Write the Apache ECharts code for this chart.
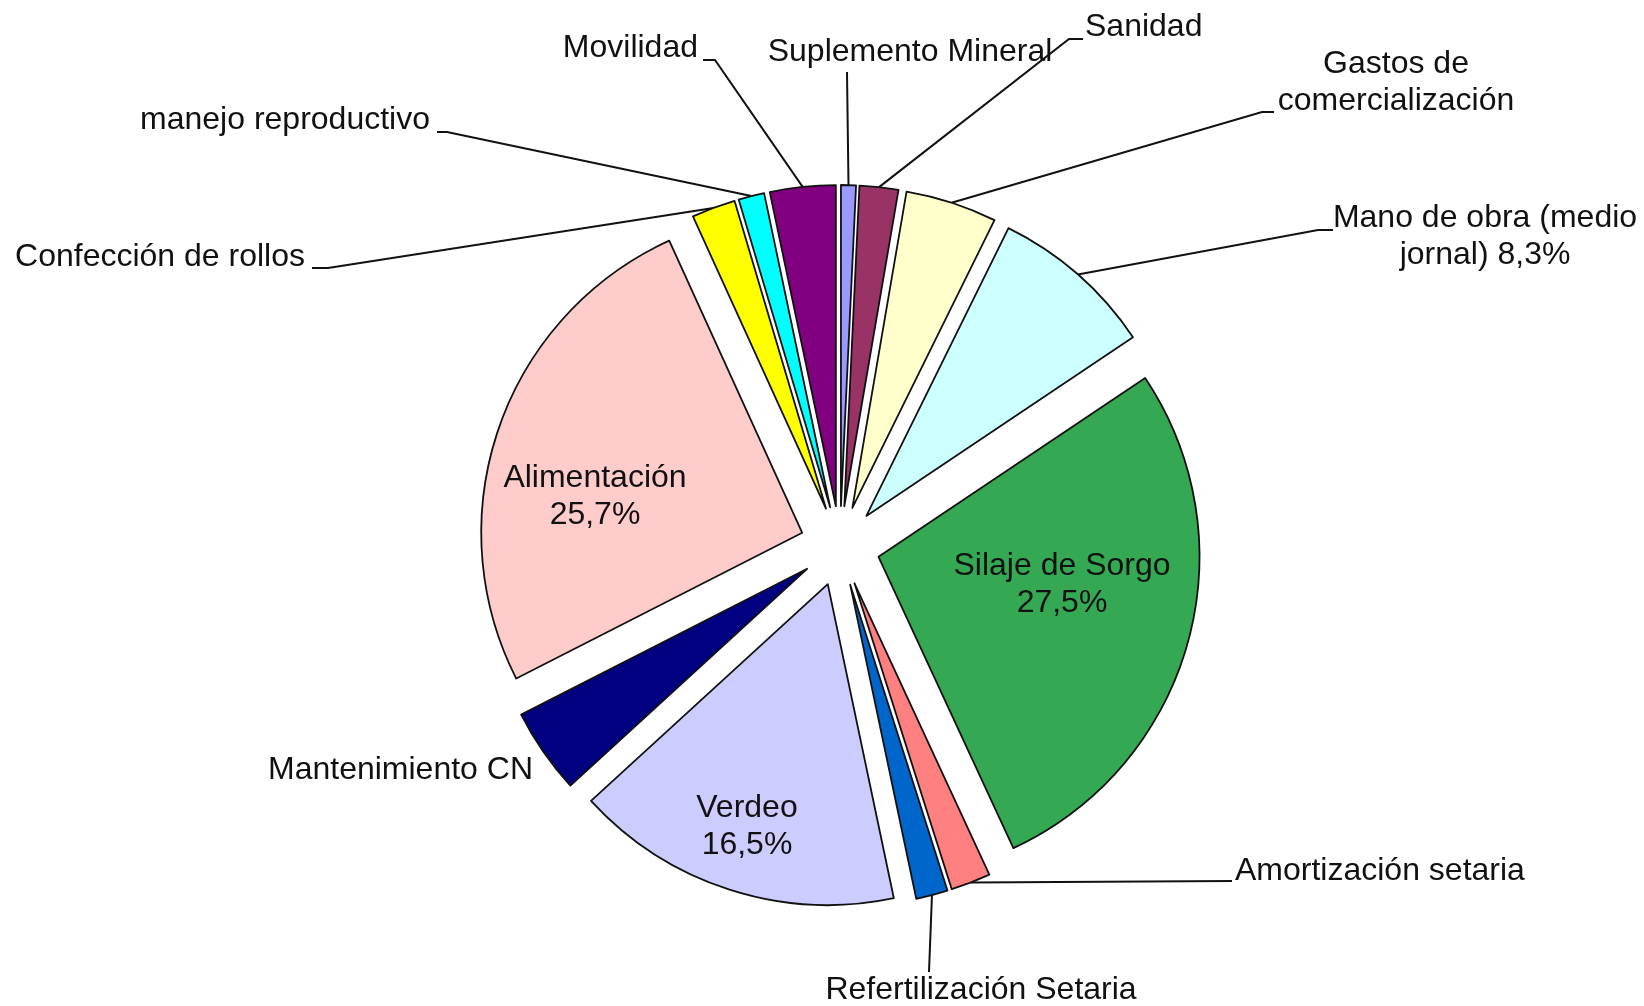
<!DOCTYPE html>
<html>
<head>
<meta charset="utf-8">
<script src="https://cdn.jsdelivr.net/npm/echarts@6/dist/echarts.min.js"></script>
<style>
html,body{margin:0;padding:0;background:#ffffff;}
#chart{width:1644px;height:1006px;}
</style>
</head>
<body>
<div id="chart"></div>
<script>
// ---------------- DATA ----------------
const categories = [
  'Suplemento Mineral',
  'Sanidad',
  'Gastos de comercialización',
  'Mano de obra (medio jornal)',
  'Silaje de Sorgo',
  'Amortización setaria',
  'Refertilización Setaria',
  'Verdeo',
  'Mantenimiento CN',
  'Alimentación',
  'Confección de rollos',
  'manejo reproductivo',
  'Movilidad'
];
const values = [0.75, 1.95, 4.6, 8.3, 27.5, 2.0, 1.6, 16.5, 4.3, 25.7, 2.2, 1.3, 3.3];
// label text as printed (line breaks as in the picture); pct appended with given separator
const labelNames = [
  'Suplemento Mineral',
  'Sanidad',
  'Gastos de\ncomercialización',
  'Mano de obra (medio\njornal)',
  'Silaje de Sorgo',
  'Amortización setaria',
  'Refertilización Setaria',
  'Verdeo',
  'Mantenimiento CN',
  'Alimentación',
  'Confección de rollos',
  'manejo reproductivo',
  'Movilidad'
];
const pctJoin = [null, null, null, ' ', '\n', null, null, '\n', null, '\n', null, null, null];

// ---------------- STYLE / LAYOUT ----------------
const colors = ['#9999FF', '#993366', '#FFFFCC', '#CCFFFF', '#34A853', '#FF8080', '#0066CC',
                '#CCCCFF', '#000080', '#FFCCCC', '#FFFF00', '#00FFFF', '#800080'];
const CENTER = [840, 546];
const RADIUS = 321;
const EXPLODE = 40;
const FONT = { fontFamily: '"Liberation Sans", Arial, sans-serif', fontSize: 32, lineHeight: 37, color: '#111111' };
// label anchor positions and leader-line bends (pixels)
const LABEL_LAYOUT = [
  { x: 910,  y: 52,  align: 'center', line: [[847, 72]] },
  { x: 1085, y: 27,  align: 'left',   line: [[1069, 39], [1083, 39]] },
  { x: 1396, y: 83,  align: 'center', line: [[1262, 112], [1274, 112]] },
  { x: 1485, y: 237, align: 'center', line: [[1318, 230], [1333, 230]] },
  { x: 1062, y: 585, align: 'center', inside: true },
  { x: 1235, y: 871, align: 'left',   line: [[1232, 881]] },
  { x: 981,  y: 990, align: 'center', line: [[929, 972]] },
  { x: 747,  y: 827, align: 'center', inside: true },
  { x: 533,  y: 770, align: 'right' },
  { x: 595,  y: 497, align: 'center', inside: true },
  { x: 305,  y: 257, align: 'right',  line: [[328, 268], [312, 268]] },
  { x: 430,  y: 120, align: 'right',  line: [[447, 132], [437, 132]] },
  { x: 698,  y: 48,  align: 'right',  line: [[715, 60], [703, 60]] }
];

function fmtPct(v) { return v.toFixed(1).replace('.', ',') + '%'; }
function labelText(i) {
  return pctJoin[i] == null ? labelNames[i] : labelNames[i] + pctJoin[i] + fmtPct(values[i]);
}

const total = values.reduce((a, b) => a + b, 0);
const series = [];
let acc = 0;
values.forEach((v, i) => {
  const mid = (acc + v / 2) / total * Math.PI * 2;  // clockwise from 12 o'clock
  acc += v;
  const cx = CENTER[0] + EXPLODE * Math.sin(mid);
  const cy = CENTER[1] - EXPLODE * Math.cos(mid);
  const start = [cx + RADIUS * Math.sin(mid), cy - RADIUS * Math.cos(mid)];
  const lay = LABEL_LAYOUT[i];
  series.push({
    type: 'pie',
    center: [cx, cy],
    radius: RADIUS,
    startAngle: 90,
    clockwise: true,
    silent: true,
    avoidLabelOverlap: false,
    minShowLabelAngle: 0,
    emphasis: { disabled: true },
    animation: false,
    label: { show: false },
    labelLine: { show: false },
    data: values.map((val, j) => {
      const mine = j === i;
      return {
        value: val,
        name: categories[j],
        itemStyle: mine
          ? { color: colors[j], borderColor: '#111111', borderWidth: 1.8 }
          : { color: 'rgba(0,0,0,0)', borderWidth: 0 },
        label: mine
          ? Object.assign({ show: true, position: lay.inside ? 'inside' : 'outside',
              formatter: () => labelText(j) }, FONT)
          : { show: false },
        labelLine: mine && lay.line
          ? { show: true, lineStyle: { color: '#111111', width: 2 } }
          : { show: false }
      };
    }),
    labelLayout: function (params) {
      if (params.dataIndex !== i) return {};
      const out = { x: lay.x, y: lay.y, align: lay.align, verticalAlign: 'middle' };
      if (lay.line) out.labelLinePoints = [start].concat(lay.line);
      return out;
    }
  });
});

const chart = echarts.init(document.getElementById('chart'), null, { renderer: 'canvas' });
chart.setOption({
  backgroundColor: '#ffffff',
  animation: false,
  series: series
});
</script>
</body>
</html>
